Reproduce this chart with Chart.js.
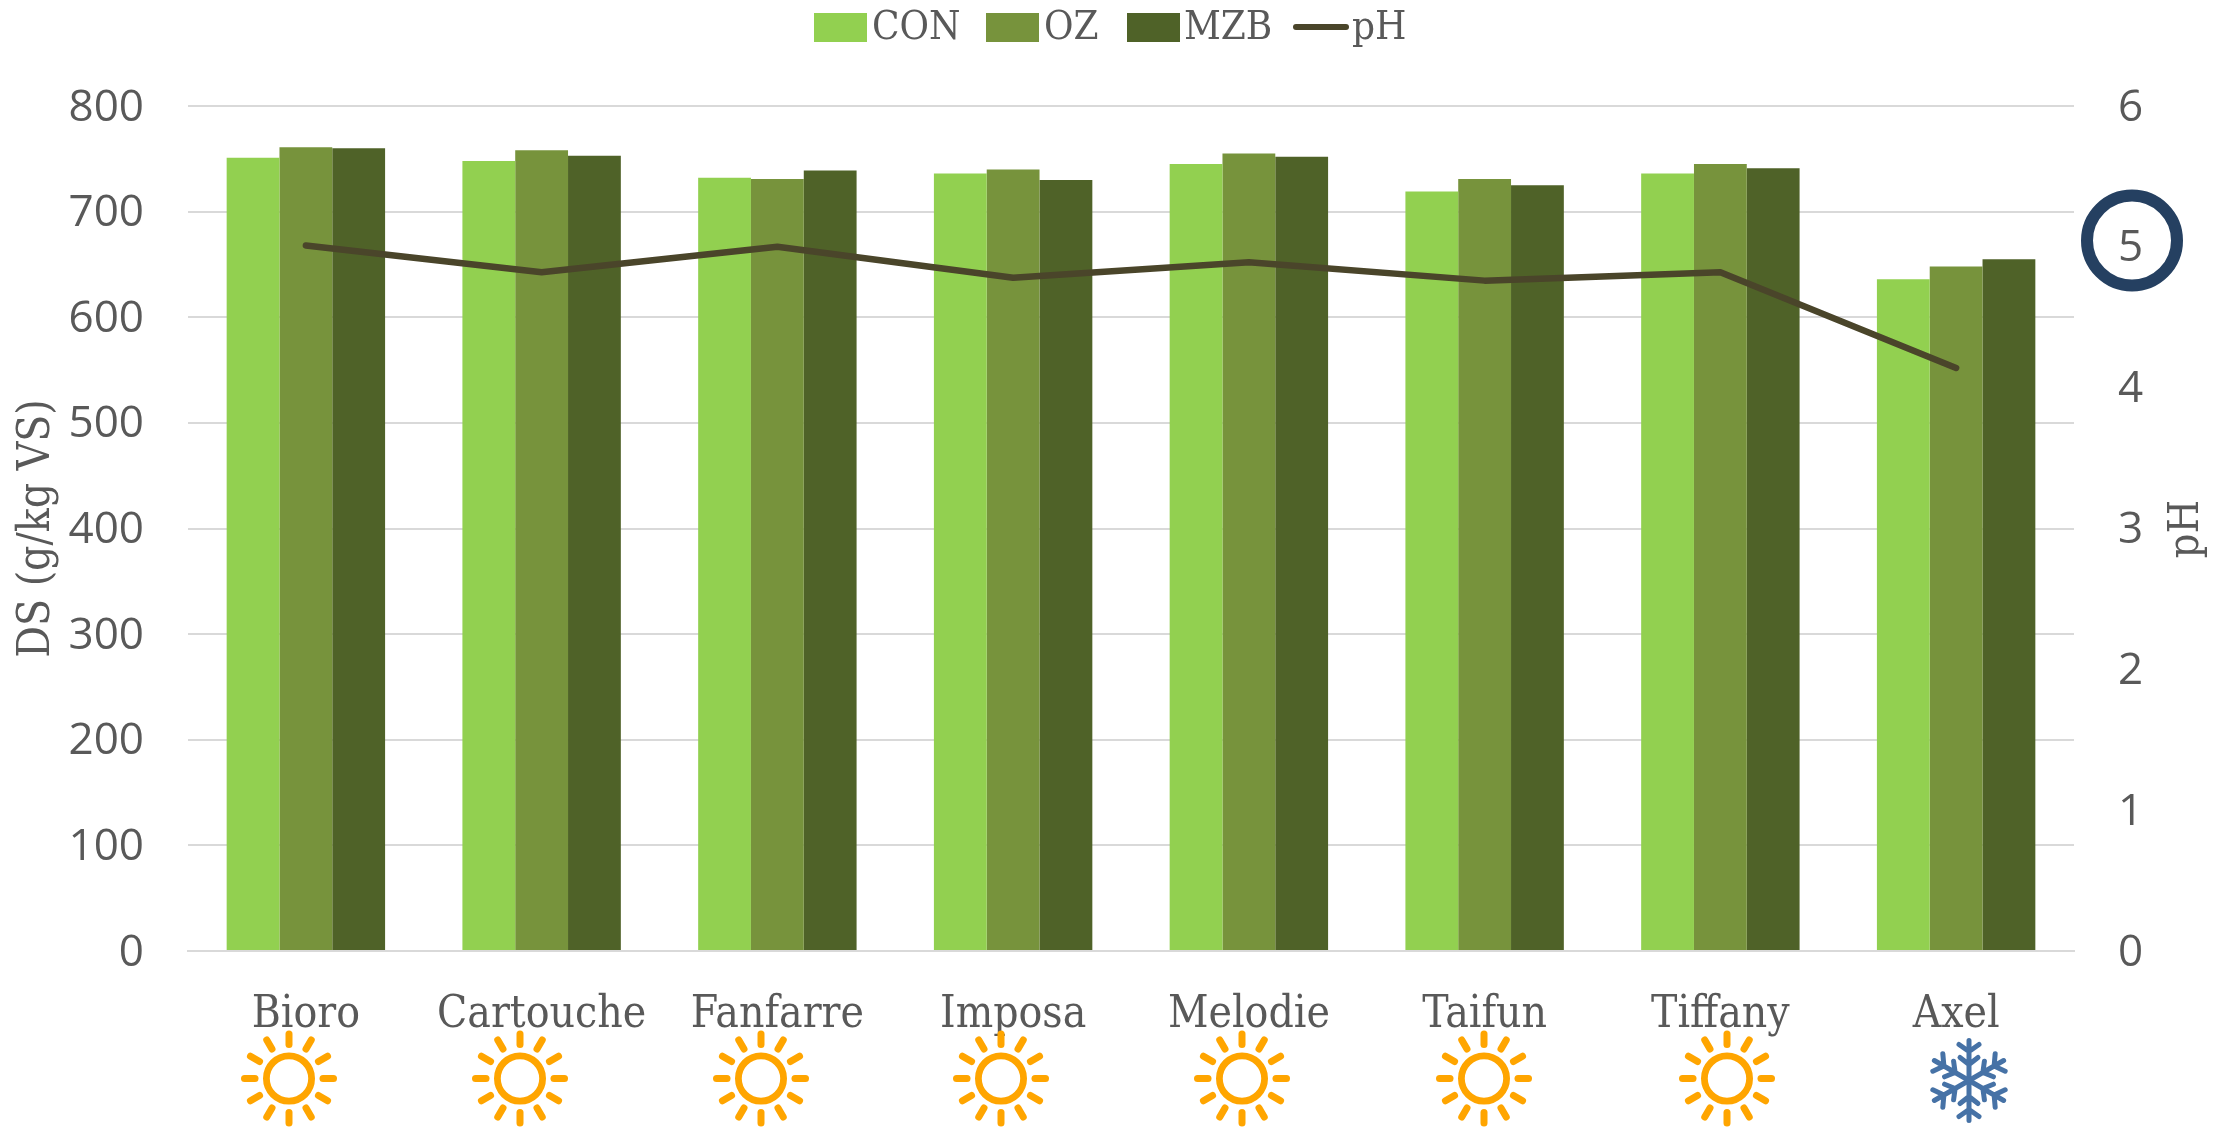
<!DOCTYPE html>
<html>
<head>
<meta charset="utf-8">
<style>html,body{margin:0;padding:0;background:#fff}#w{width:2233px;height:1127px}</style>
<script src="https://cdn.jsdelivr.net/npm/chart.js@4"></script>
</head>
<body>
<div id="w"><canvas id="c" width="2233" height="1127"></canvas></div>
<script>
const categories = ["Bioro","Cartouche","Fanfarre","Imposa","Melodie","Taifun","Tiffany","Axel"];
const conValues = [751,748,732,736,745,719,736,636];
const ozValues  = [761,758,731,740,755,731,745,648];
const mzbValues = [760,753,739,730,752,725,741,655];
const phValues  = [5.01,4.82,5.0,4.78,4.89,4.76,4.82,4.14];
const leftTicks = [0,100,200,300,400,500,600,700,800];
const rightTicks = [0,1,2,3,4,5,6];
const climate = ["sun","sun","sun","sun","sun","sun","sun","snow"];
const rightTitle = "pH";

const GREY = "#595959";
const SLAB = '"DejaVu Serif Condensed","DejaVu Serif",serif';
const SANS = '"Open Sans",sans-serif';

const legendLayout = [
  {box:814, text:872},
  {box:986, text:1044},
  {box:1127, text:1184},
  {box:1293, text:1352}
];
const iconX = [289,520,761,1001,1242,1484,1727,1969];

function drawSun(ctx,x,y){
  ctx.save();
  ctx.strokeStyle="#FFA500";
  ctx.lineCap="round";
  ctx.lineWidth=6.8;
  ctx.beginPath();ctx.arc(x,y,22.6,0,Math.PI*2);ctx.stroke();
  ctx.lineWidth=7;
  for(let i=0;i<12;i++){
    const a=i*Math.PI/6;
    ctx.beginPath();
    ctx.moveTo(x+Math.cos(a)*34,y+Math.sin(a)*34);
    ctx.lineTo(x+Math.cos(a)*44.5,y+Math.sin(a)*44.5);
    ctx.stroke();
  }
  ctx.restore();
}
function drawSnow(ctx,x,y){
  ctx.save();
  ctx.translate(x,y);
  ctx.strokeStyle="#4672A6";
  ctx.lineCap="round";
  ctx.lineWidth=5;
  for(let i=0;i<6;i++){
    ctx.save();
    ctx.rotate(i*Math.PI/3);
    ctx.beginPath();
    ctx.moveTo(0,0);ctx.lineTo(0,-40);
    ctx.moveTo(0,-16);ctx.lineTo(-9,-23);
    ctx.moveTo(0,-16);ctx.lineTo(9,-23);
    ctx.moveTo(0,-29);ctx.lineTo(-10,-36);
    ctx.moveTo(0,-29);ctx.lineTo(10,-36);
    ctx.stroke();
    ctx.restore();
  }
  ctx.restore();
}
const extras = {
  id:"extras",
  afterDraw(chart){
    const ctx=chart.ctx;
    // legend
    ctx.save();
    ctx.font='40px '+SLAB;
    ctx.textBaseline="middle";
    ctx.textAlign="left";
    chart.data.datasets.forEach((d,i)=>{
      const L=legendLayout[i];
      if(d.type==="line"){
        ctx.strokeStyle=d.borderColor;ctx.lineWidth=6;ctx.lineCap="round";
        ctx.beginPath();ctx.moveTo(L.box+3,27);ctx.lineTo(L.box+53,27);ctx.stroke();
      }else{
        ctx.fillStyle=d.backgroundColor;ctx.fillRect(L.box,13,53,29);
      }
      ctx.fillStyle=GREY;
      ctx.fillText(d.label,L.text,29);
    });
    ctx.restore();
    // right axis title, reading upward
    ctx.save();
    ctx.translate(2198,529);
    ctx.rotate(-Math.PI/2);
    ctx.font='43px '+SLAB;
    ctx.fillStyle=GREY;
    ctx.textAlign="center";
    ctx.textBaseline="alphabetic";
    ctx.fillText(rightTitle,0,0);
    ctx.restore();
    // climate icons
    climate.forEach((k,i)=>k==="sun"?drawSun(ctx,iconX[i],1078.5):drawSnow(ctx,iconX[i],1080.5));
    // highlighted tick
    ctx.save();
    ctx.strokeStyle="#254061";ctx.lineWidth=12;
    ctx.beginPath();ctx.arc(2132,240.5,45,0,Math.PI*2);ctx.stroke();
    ctx.restore();
  }
};

new Chart(document.getElementById("c"),{
  data:{
    labels:categories,
    datasets:[
      {type:"bar",label:"CON",data:conValues,backgroundColor:"#92D050",yAxisID:"y",order:2},
      {type:"bar",label:"OZ",data:ozValues,backgroundColor:"#77933C",yAxisID:"y",order:2},
      {type:"bar",label:"MZB",data:mzbValues,backgroundColor:"#4F6228",yAxisID:"y",order:2},
      {type:"line",label:"pH",data:phValues,borderColor:"#4A452A",borderWidth:6.5,borderCapStyle:"round",borderJoinStyle:"round",pointRadius:0,tension:0,yAxisID:"y2",order:1}
    ]
  },
  plugins:[extras],
  options:{
    responsive:false,
    animation:false,
    devicePixelRatio:1,
    layout:{padding:{top:106,left:0,right:0,bottom:0}},
    datasets:{bar:{categoryPercentage:0.672,barPercentage:1}},
    plugins:{legend:{display:false},tooltip:{enabled:false},title:{display:false}},
    scales:{
      x:{
        grid:{display:false,drawTicks:false},
        border:{display:true,color:"#D9D9D9",width:2},
        ticks:{color:GREY,font:{family:SLAB,size:44},padding:38,maxRotation:0,minRotation:0,autoSkip:false},
        afterFit(s){s.height=176;}
      },
      y:{
        position:"left",min:0,max:800,
        afterBuildTicks(s){s.ticks=leftTicks.map(v=>({value:v}));},
        grid:{color:"#D9D9D9",lineWidth:2,drawTicks:false},
        border:{display:false},
        ticks:{color:GREY,font:{family:SANS,size:44},padding:44,labelOffset:2},
        title:{display:true,text:"DS (g/kg VS)",color:GREY,font:{family:SLAB,size:44},padding:{top:11,bottom:0}},
        afterFit(s){s.width=188;}
      },
      y2:{
        position:"right",min:0,max:6,
        afterBuildTicks(s){s.ticks=rightTicks.map(v=>({value:v}));},
        grid:{display:false,drawTicks:false},
        border:{display:false},
        ticks:{color:GREY,font:{family:SANS,size:44},padding:44,labelOffset:2},
        afterFit(s){s.width=159;}
      }
    }
  }
});
</script>
</body>
</html>
